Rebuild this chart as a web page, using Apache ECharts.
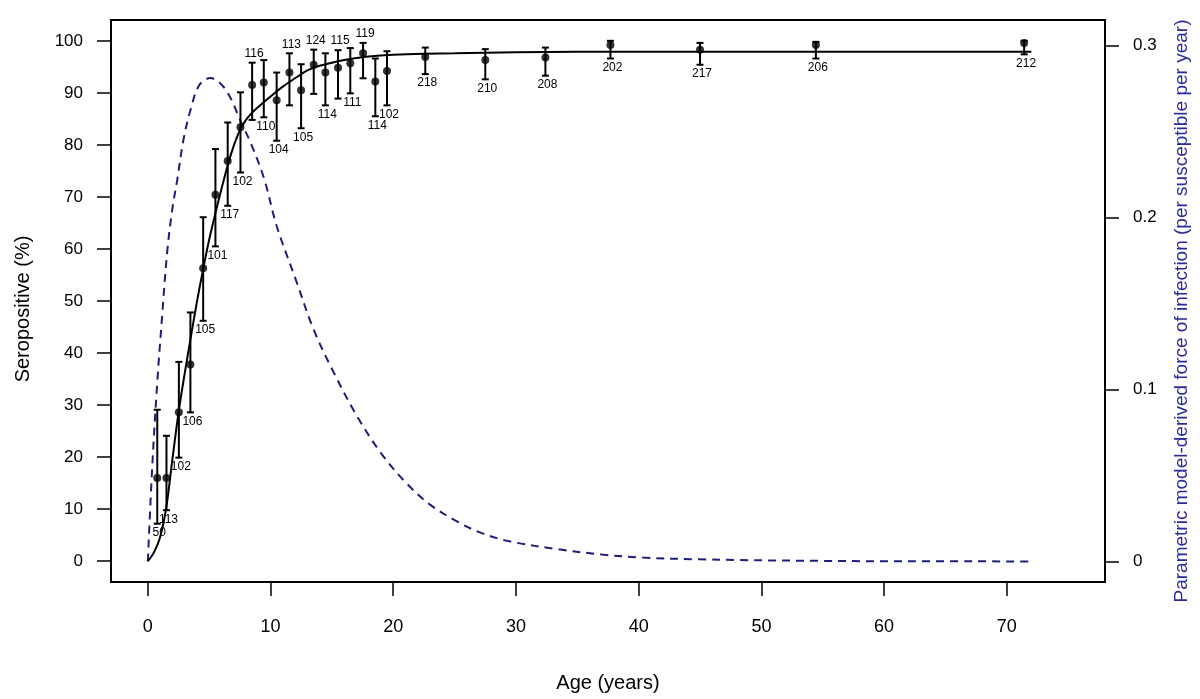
<!DOCTYPE html>
<html><head><meta charset="utf-8">
<script src="https://cdn.jsdelivr.net/npm/echarts@6/dist/echarts.min.js"></script>
<style>html,body{margin:0;padding:0;background:#fff}#c{width:1200px;height:699px}</style>
</head><body><div id="c"></div>
<script>
// ---- observed data (age-group midpoints) ----
const ageMid  = [0.77,1.52,2.53,3.47,4.51,5.51,6.51,7.55,8.5,9.45,10.5,11.54,12.49,13.52,14.47,15.5,16.5,17.54,18.54,19.49,22.61,27.5,32.4,37.7,45.0,54.44,71.41];
const seroPct = [16.0,16.0,28.6,37.8,56.3,70.4,76.9,83.4,91.5,92.0,88.6,93.9,90.5,95.4,93.9,94.8,95.7,97.6,92.2,94.2,96.9,96.3,96.8,99.2,98.3,99.2,99.6];
const ciLow   = [7.2,9.8,19.9,28.6,46.2,60.5,68.3,74.7,84.8,85.3,80.8,87.6,83.2,89.8,87.6,88.9,89.9,92.8,85.5,87.6,93.6,92.6,93.3,96.6,95.4,96.6,97.4];
const ciHigh  = [29.1,24.1,38.3,47.8,66.1,79.2,84.3,90.1,95.8,96.3,93.9,97.6,95.5,98.3,97.6,98.2,98.6,99.6,96.6,98.0,98.7,98.4,98.7,100.0,99.6,99.8,100.0];
const sampleN = [50,113,102,106,105,101,117,102,116,110,104,113,105,124,114,115,111,119,114,102,218,210,208,202,217,206,212];
const nLabelSide = ['below','below','below','below','below','below','below','below','above','below','below','above','below','above','below','above','below','above','below','below','below','below','below','below','below','below','below'];

// ---- fitted seroprevalence curve ----
const fitAge = [0,0.5,1.0,1.5,2.0,2.5,3.0,3.5,4.0,4.5,5.0,5.5,6.0,6.5,7.0,7.5,8.0,8.5,9.0,10,11,12,13,14,15,16,17,18,20,22.5,25,30,35,72];
const fitPct = [0,1.7,4.6,10.3,19.5,28.5,36.0,43.0,49.8,56.0,61.8,66.8,71.5,76.0,79.8,82.8,84.8,86.2,87.3,89.3,91.2,92.8,94.3,95.2,95.8,96.3,96.7,97.0,97.3,97.5,97.6,97.8,97.9,97.9];

// ---- force of infection curve (right axis) ----
const foiAge = [0,0.36,0.77,1.17,1.58,2.0,2.4,2.9,3.5,4.2,5.1,5.9,6.7,7.5,8.4,9.5,10.5,12,13.5,15,17,19,21,23,25,27,29.4,33.5,37,40.3,45,48,55,60,72];
const foiVal = [0,0.055,0.104,0.143,0.180,0.205,0.222,0.245,0.263,0.277,0.281,0.278,0.270,0.257,0.243,0.222,0.195,0.165,0.135,0.112,0.085,0.063,0.046,0.033,0.024,0.017,0.0118,0.007,0.004,0.0022,0.0012,0.0008,0.0003,0.0001,0];

// ---- axis ticks ----
const xTicks = [0,10,20,30,40,50,60,70];
const yTicks = [0,10,20,30,40,50,60,70,80,90,100];
const rTicks = [0,0.1,0.2,0.3];

const FONT = '"Liberation Sans", Arial, Helvetica, sans-serif';
const NAVY = '#1e1e7a';
const TITLEBLUE = '#2a2a98';

const chart = echarts.init(document.getElementById('c'), null, {renderer:'canvas'});

const pointData = ageMid.map((a,i)=>[a, seroPct[i]]);
const barData = ageMid.map((a,i)=>[a, ciLow[i], ciHigh[i], sampleN[i], nLabelSide[i]==='above'?1:0]);
const fitData = fitAge.map((a,i)=>[a, fitPct[i]]);
const foiData = foiAge.map((a,i)=>[a, foiVal[i]]);

const tickStyle = {color:'#000', width:1.5};

chart.setOption({
  animation:false,
  backgroundColor:'#fff',
  grid:{left:111, right:95, top:20, bottom:117, show:true, borderColor:'#000', borderWidth:2, backgroundColor:'transparent', containLabel:false},
  xAxis:{type:'value', min:-3, max:78,
    axisLine:{show:false, onZero:false},
    axisTick:{show:true, inside:false, length:14, lineStyle:tickStyle, customValues:xTicks},
    axisLabel:{show:true, margin:36, fontSize:18, color:'#000', fontFamily:FONT, customValues:xTicks},
    splitLine:{show:false}},
  yAxis:[
    {type:'value', position:'left', min:-4, max:104,
      axisLine:{show:false, onZero:false},
      axisTick:{show:true, length:14, lineStyle:tickStyle, customValues:yTicks},
      axisLabel:{show:true, margin:28, fontSize:17, color:'#000', fontFamily:FONT, customValues:yTicks},
      splitLine:{show:false}},
    {type:'value', position:'right', min:-0.01198, max:0.31477,
      axisLine:{show:false, onZero:false},
      axisTick:{show:true, length:14, lineStyle:tickStyle, customValues:rTicks},
      axisLabel:{show:true, margin:28, fontSize:17, color:'#000', fontFamily:FONT, customValues:rTicks,
        formatter:function(v){ return Math.abs(v) < 1e-9 ? '0' : v.toFixed(1); }},
      splitLine:{show:false}}
  ],
  graphic:[
    {type:'text', x:23, y:309, rotation:Math.PI/2, silent:true,
      style:{text:'Seropositive (%)', font:'20px '+FONT, fill:'#000', textAlign:'center', textVerticalAlign:'middle', align:'center', verticalAlign:'middle'}},
    {type:'text', x:608, y:683, silent:true,
      style:{text:'Age (years)', font:'20px '+FONT, fill:'#000', textAlign:'center', textVerticalAlign:'middle', align:'center', verticalAlign:'middle'}},
    {type:'text', x:1182, y:311, rotation:Math.PI/2, silent:true,
      style:{text:'Parametric model-derived force of infection (per susceptible per year)', font:'19px '+FONT, fill:TITLEBLUE, textAlign:'center', textVerticalAlign:'middle', align:'center', verticalAlign:'middle'}}
  ],
  series:[
    {type:'line', name:'foi', xAxisIndex:0, yAxisIndex:1, data:foiData, smooth:0.35, showSymbol:false, symbol:'none',
      lineStyle:{color:NAVY, width:2, type:[8,6]}, z:2, silent:true},
    {type:'line', name:'fit', xAxisIndex:0, yAxisIndex:0, data:fitData, smooth:0.35, showSymbol:false, symbol:'none',
      lineStyle:{color:'#000', width:2}, z:3, silent:true},
    {type:'custom', name:'ci', xAxisIndex:0, yAxisIndex:0, data:barData, z:4, silent:true,
      encode:{x:0, y:[1,2]},
      renderItem:function(params, api){
        const x = api.value(0), lo = api.value(1), hi = api.value(2), n = api.value(3), above = api.value(4);
        const pLo = api.coord([x, lo]), pHi = api.coord([x, hi]);
        const cap = 3.5;
        const st = {stroke:'#000', lineWidth:2};
        return {type:'group', children:[
          {type:'line', shape:{x1:pLo[0], y1:pLo[1], x2:pHi[0], y2:pHi[1]}, style:st},
          {type:'line', shape:{x1:pLo[0]-cap, y1:pLo[1], x2:pLo[0]+cap, y2:pLo[1]}, style:st},
          {type:'line', shape:{x1:pHi[0]-cap, y1:pHi[1], x2:pHi[0]+cap, y2:pHi[1]}, style:st},
          {type:'text', x:pLo[0]+2, y: above ? pHi[1]-9 : pLo[1]+9,
            style:{text:String(n), font:'12px '+FONT, fill:'#000', textAlign:'center', textVerticalAlign:'middle', align:'center', verticalAlign:'middle'}}
        ]};
      }},
    {type:'scatter', name:'obs', xAxisIndex:0, yAxisIndex:0, data:pointData, symbol:'circle', symbolSize:8,
      itemStyle:{color:'#000'}, z:5, silent:true}
  ]
});
</script>
</body></html>
